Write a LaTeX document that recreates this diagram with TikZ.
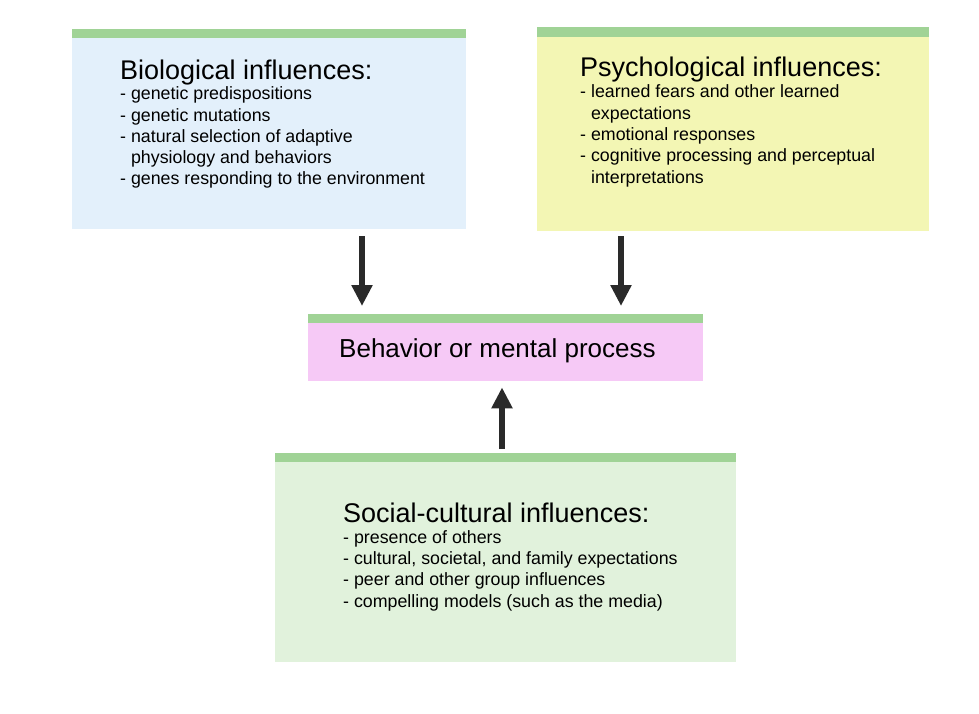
\documentclass[tikz,border=0pt]{standalone}
\usepackage{fontspec}
\setmainfont{Liberation Sans}
\usepackage{xcolor}
\definecolor{ColBio}{RGB}{227,240,251}
\definecolor{ColPsy}{RGB}{243,246,180}
\definecolor{ColBeh}{RGB}{246,201,246}
\definecolor{ColSoc}{RGB}{225,242,220}
\definecolor{ColBar}{RGB}{160,211,150}
\definecolor{ColArr}{RGB}{42,42,42}
\usepackage{tikz}
\usetikzlibrary{arrows.meta}
\tikzstyle{Box}=[rectangle,anchor=north west,inner sep=0pt,draw=none]
\tikzstyle{Bar}=[fill=ColBar]
\tikzstyle{Title}=[anchor=base west,inner sep=0pt,
font=\fontsize{27}{30}\selectfont]
\tikzstyle{Item}=[anchor=base west,inner sep=0pt,align=left,
font=\fontsize{17.8}{21.3}\selectfont]
\tikzstyle{Arrow}=[draw=ColArr,line width=6pt,
-{Triangle[length=21pt,width=20pt]}]
\begin{document}
\begin{tikzpicture}[x=1pt,y=-1pt]
        \useasboundingbox[fill=white](0,0)rectangle(979,714);
        % boxes
        \node[Box,fill=ColBio,minimum width=394pt,minimum height=200pt]
            (bio)at(72,29){};
        \node[Box,fill=ColPsy,minimum width=392pt,minimum height=204pt]
            (psy)at(537,27){};
        \node[Box,fill=ColBeh,minimum width=395pt,minimum height=67pt]
            (beh)at(308,314){};
        \node[Box,fill=ColSoc,minimum width=461pt,minimum height=209pt]
            (soc)at(275,453){};
        \fill[Bar](bio.north west)rectangle++(394,9);
        \fill[Bar](psy.north west)rectangle++(392,10);
        \fill[Bar](beh.north west)rectangle++(395,9);
        \fill[Bar](soc.north west)rectangle++(461,9);
        % texts (Item nodes sit on the baseline of their last line)
        \node[Title](biot)at(120,80){Biological influences:};
        \node[Item](bioi)at(120,185){- genetic predispositions\\
            - genetic mutations\\
            - natural selection of adaptive\\
            \phantom{- }physiology and behaviors\\
            - genes responding to the environment};
        \node[Title](psyt)at(580,77){Psychological influences:};
        \node[Item](psyi)at(580,183){- learned fears and other learned\\
            \phantom{- }expectations\\
            - emotional responses\\
            - cognitive processing and perceptual\\
            \phantom{- }interpretations};
        \node[Title,font=\fontsize{26}{30}\selectfont](beht)at(339,357)
            {Behavior or mental process};
        \node[Title](soct)at(343,522){Social-cultural influences:};
        \node[Item](soci)at(343,607){- presence of others\\
            - cultural, societal, and family expectations\\
            - peer and other group influences\\
            - compelling models (such as the media)};
        % arrows
        \coordinate(a1)at(362,236);
        \coordinate(a2)at(621,236);
        \coordinate(a3)at(502,449);
        \draw[Arrow](a1)--([yshift=8pt]a1|-beh.north);
        \draw[Arrow](a2)--([yshift=8pt]a2|-beh.north);
        \draw[Arrow](a3)--([yshift=-6pt]a3|-beh.south);
    \end{tikzpicture}
\end{document}
